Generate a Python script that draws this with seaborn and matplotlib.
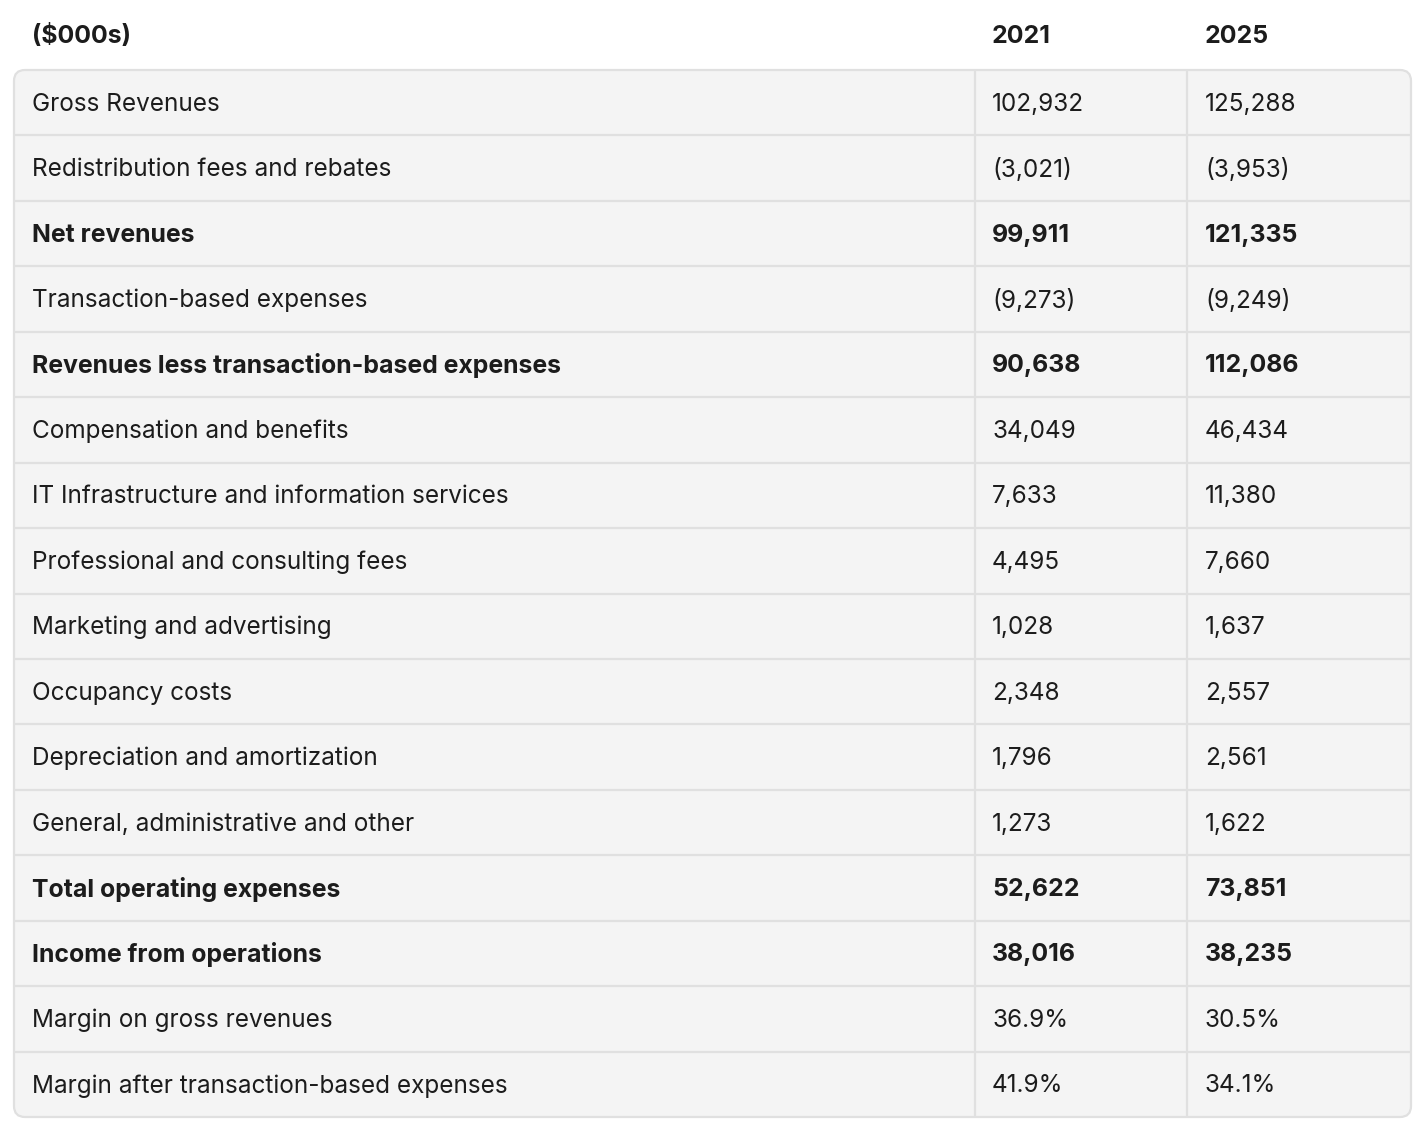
import matplotlib
matplotlib.use("Agg")
import matplotlib.pyplot as plt
from matplotlib.patches import FancyBboxPatch
import seaborn as sns

# ---- data ----
header = ["($000s)", "2021", "2025"]
labels = [
    "Gross Revenues",
    "Redistribution fees and rebates",
    "Net revenues",
    "Transaction-based expenses",
    "Revenues less transaction-based expenses",
    "Compensation and benefits",
    "IT Infrastructure and information services",
    "Professional and consulting fees",
    "Marketing and advertising",
    "Occupancy costs",
    "Depreciation and amortization",
    "General, administrative and other",
    "Total operating expenses",
    "Income from operations",
    "Margin on gross revenues",
    "Margin after transaction-based expenses",
]
values_2021 = ["102,932", "(3,021)", "99,911", "(9,273)", "90,638", "34,049", "7,633",
               "4,495", "1,028", "2,348", "1,796", "1,273", "52,622", "38,016",
               "36.9%", "41.9%"]
values_2025 = ["125,288", "(3,953)", "121,335", "(9,249)", "112,086", "46,434", "11,380",
               "7,660", "1,637", "2,557", "2,561", "1,622", "73,851", "38,235",
               "30.5%", "34.1%"]
bold_rows = ["Net revenues", "Revenues less transaction-based expenses",
             "Total operating expenses", "Income from operations"]

# ---- style ----
sns.set_theme(style="white")
plt.rcParams['font.family'] = ['Inter', 'DejaVu Sans']

W, H = 1426, 1136
fig = plt.figure(figsize=(W / 100, H / 100), dpi=100)
ax = fig.add_axes([0, 0, 1, 1])
ax.set_xlim(0, W)
ax.set_ylim(H, 0)
ax.axis("off")

left, right = 14, 1411
top, bottom = 70, 1117
col_edges = [left, 975, 1187, right]
text_x = [32, 992, 1205]
n = len(labels)
rh = (bottom - top) / n

bg = "#f4f4f4"
line = "#e0e0e0"
txt = "#1c1c1c"
fs = 17.5
fs_b = 17.9

# outer rounded box
box = FancyBboxPatch((left, top), right - left, bottom - top,
                     boxstyle="round,pad=0,rounding_size=11",
                     facecolor=bg, edgecolor=line, linewidth=1.6, zorder=1)
ax.add_patch(box)

# row dividers
for i in range(1, n):
    y = top + i * rh
    ax.plot([left + 0.8, right - 0.8], [y, y], color=line, lw=1.6, zorder=2,
            solid_capstyle="butt")
# column dividers
for x in col_edges[1:-1]:
    ax.plot([x, x], [top + 0.8, bottom - 0.8], color=line, lw=1.6, zorder=2,
            solid_capstyle="butt")

# header
for j, h in enumerate(header):
    ax.text(text_x[j], 36.5, h, fontsize=fs_b, fontweight="bold", color=txt,
            ha="left", va="center", zorder=3)

# rows
for i, (lab, v1, v2) in enumerate(zip(labels, values_2021, values_2025)):
    y = top + (i + 0.5) * rh + 1.5
    isb = lab in bold_rows
    for j, s in enumerate([lab, v1, v2]):
        ax.text(text_x[j], y, s, fontsize=fs_b if isb else fs,
                fontweight="bold" if isb else "normal", color=txt,
                ha="left", va="center", zorder=3)

fig.savefig("out.png", dpi=100, facecolor="white")
